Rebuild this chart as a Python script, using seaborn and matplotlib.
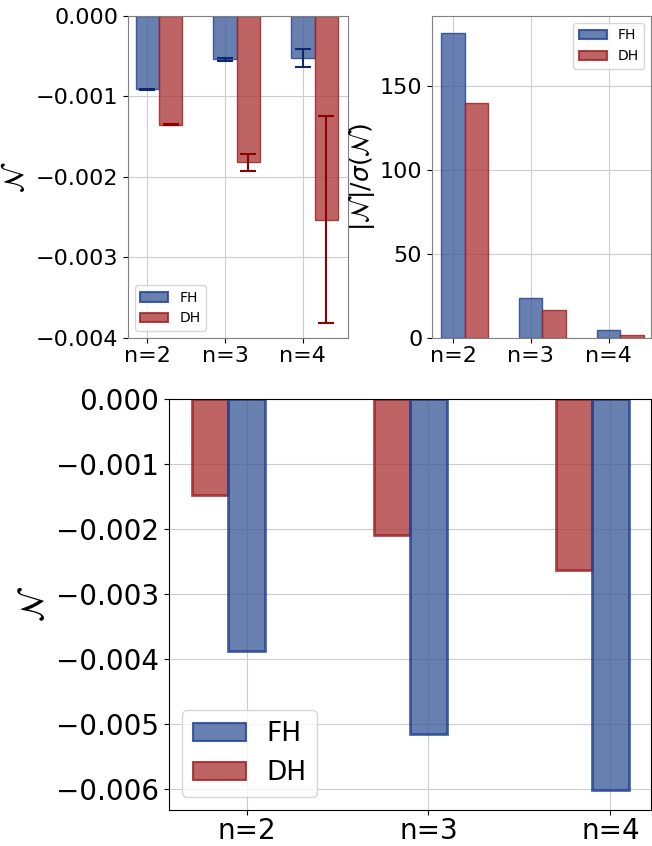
import numpy as np
import pandas as pd
import matplotlib
matplotlib.use("Agg")
import matplotlib.pyplot as plt
from matplotlib.patches import Patch
import seaborn as sns

# values
cats = ["n=2", "n=3", "n=4"]
models = ["FH", "DH"]

# top left: negativity with error bars
top_fh = [-0.00091, -0.00054, -0.00052]
top_dh = [-0.00135, -0.00182, -0.00253]
err_fh = [0.000005, 0.000023, 0.00011]
err_dh = [0.00001, 0.00011, 0.00129]

# top right: |N| / sigma(N)
ratio_fh = [182, 23.6, 4.8]
ratio_dh = [140.3, 16.7, 1.8]

# bottom: negativity
bot_fh = [-0.00388, -0.00515, -0.00601]
bot_dh = [-0.00147, -0.00209, -0.00263]

face = {"FH": "#42609C", "DH": "#AE3D3D"}
edge = {"FH": "#1F3F8F", "DH": "#9A1E22"}
errc = {"FH": "#0B2A6B", "DH": "#8B0000"}

sns.set_style("ticks", {"axes.grid": True, "grid.color": "#cccccc"})
plt.rcParams["font.family"] = ["DejaVu Sans"]
plt.rcParams["axes.edgecolor"] = "#808080"
for key in ["text.color", "axes.labelcolor", "xtick.color", "ytick.color"]:
    plt.rcParams[key] = "black"


def long_df(fh, dh):
    return pd.DataFrame({
        "n": cats * 2,
        "value": list(fh) + list(dh),
        "model": ["FH"] * 3 + ["DH"] * 3,
    })


def draw(ax, df, order, width, lw):
    sns.barplot(data=df, x="n", y="value", hue="model", hue_order=order,
                order=cats, palette=face, saturation=1, width=width, alpha=0.8,
                linewidth=lw, legend=False, ax=ax)
    for model, cont in zip(order, ax.containers):
        for bar in cont:
            bar.set_edgecolor(edge[model])
    ax.grid(True, axis="both", color="#cccccc")
    return {m: c for m, c in zip(order, ax.containers)}


def legend(ax, loc, fs):
    handles = [Patch(facecolor=face[m], edgecolor=edge[m], alpha=0.8, linewidth=1.5, label=m)
               for m in models]
    ax.legend(handles=handles, loc=loc, fontsize=fs)


fig = plt.figure(figsize=(6.52, 8.46), dpi=100)

# top left
ax1 = fig.add_axes([0.1963, 0.6005, 0.3374, 0.3806])
conts = draw(ax1, long_df(top_fh, top_dh), models, 0.6, 1.0)
for m, err in zip(models, [err_fh, err_dh]):
    xs = [b.get_x() + b.get_width() / 2 for b in conts[m]]
    ys = [b.get_y() + b.get_height() for b in conts[m]]
    ax1.errorbar(xs, ys, yerr=err, fmt="none", ecolor=errc[m], capsize=6,
                 elinewidth=1.5, capthick=1.5)
ax1.set_xticks(np.arange(3) - 0.15)
ax1.set_xticklabels(cats)
ax1.set_xlim(-0.40, 2.43)
ax1.set_ylim(-0.004, 0)
ax1.set_yticks([0, -0.001, -0.002, -0.003, -0.004])
ax1.set_yticklabels(["0.000", "\u22120.001", "\u22120.002", "\u22120.003", "\u22120.004"])
ax1.tick_params(labelsize=16)
ax1.tick_params(axis="x", pad=2)
ax1.set_xlabel("")
ax1.set_ylabel(r"$\mathcal{N}$", fontsize=20)
legend(ax1, "lower left", 10)

# top right
ax2 = fig.add_axes([0.6626, 0.6005, 0.3364, 0.3806])
draw(ax2, long_df(ratio_fh, ratio_dh), models, 0.6, 1.0)
ax2.set_xticks(np.arange(3) - 0.15)
ax2.set_xticklabels(cats)
ax2.set_xlim(-0.42, 2.40)
ax2.set_ylim(0, 192)
ax2.set_yticks([0, 50, 100, 150])
ax2.tick_params(labelsize=16)
ax2.tick_params(axis="x", pad=2)
ax2.set_xlabel("")
ax2.set_ylabel(r"$|\mathcal{N}|/\sigma(\mathcal{N})$", fontsize=18, labelpad=2)
legend(ax2, "upper right", 10)

# bottom
ax3 = fig.add_axes([0.2592, 0.0426, 0.7385, 0.4858])
draw(ax3, long_df(bot_fh, bot_dh), ["DH", "FH"], 0.4, 2.0)
ax3.set_xticks(np.arange(3) + 0.1)
ax3.set_xticklabels(cats)
ax3.set_xlim(-0.326, 2.32)
ax3.set_ylim(-0.00632, 0)
ax3.set_yticks([0, -0.001, -0.002, -0.003, -0.004, -0.005, -0.006])
ax3.set_yticklabels(["0.000", "\u22120.001", "\u22120.002", "\u22120.003",
                     "\u22120.004", "\u22120.005", "\u22120.006"])
ax3.tick_params(labelsize=20)
ax3.tick_params(axis="x", pad=1.5)
for s in ax3.spines.values():
    s.set_color("black")
ax3.set_xlabel("")
ax3.set_ylabel(r"$\mathcal{N}$", fontsize=23)
legend(ax3, "lower left", 19)

fig.savefig("out.png", dpi=100)
